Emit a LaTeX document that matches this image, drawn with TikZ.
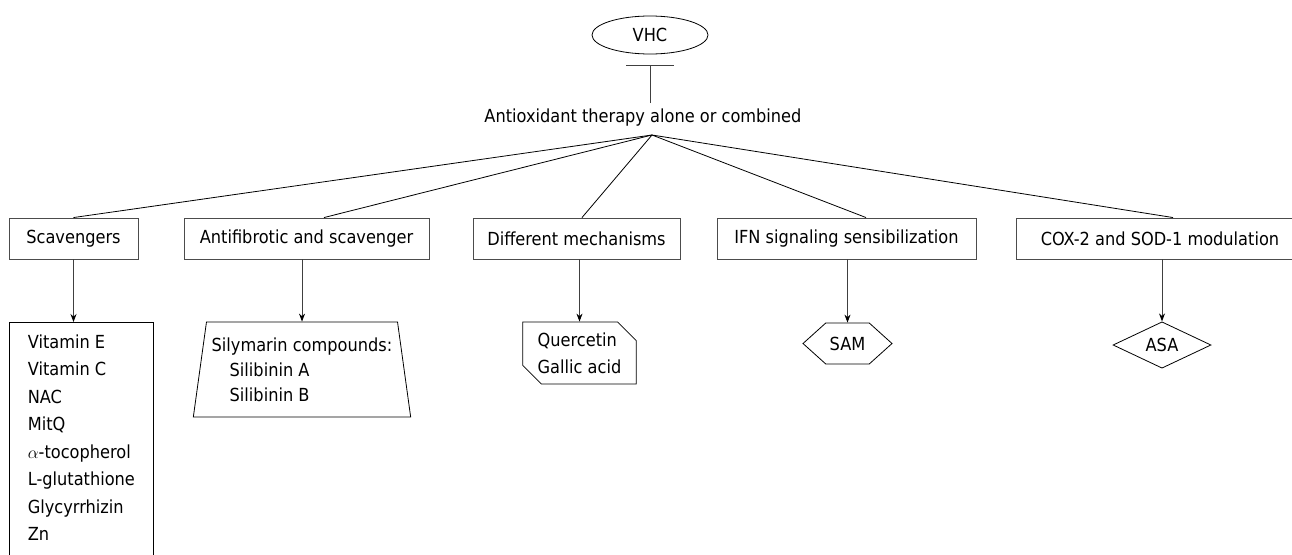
\documentclass[tikz,border=0pt]{standalone}
\usepackage{fontspec}
\setmainfont{DejaVu Sans Condensed}
\usetikzlibrary{arrows.meta,shapes.geometric,shapes.misc,shapes.symbols}
\newlength{\du}
\setlength{\du}{1pt}
\tikzset{
  box/.style={draw=black!70, line width=0.9pt, minimum height=41\du, inner sep=0pt},
  shp/.style={draw=black, line width=0.8pt, inner sep=0pt},
  fan/.style={draw=black, line width=0.8pt},
  down/.style={draw=black!75, line width=0.9pt, -{Stealth[length=8pt,width=6pt,black]}},
  inhibit/.style={draw=black!75, line width=0.9pt, -{Bar[width=48pt]}},
}
\begin{document}
\begin{tikzpicture}[x=1\du, y=-1\du, font=\fontsize{18}{21}\selectfont]
\useasboundingbox (0,0) rectangle (1292,554);
% top part
\node[ellipse, shp, minimum width=116\du, minimum height=38\du] (vhc) at (650,35) {VHC};
\node[inner sep=0pt] (therapy) at (643,118) {Antioxidant therapy alone or combined};
\coordinate (apex) at (652,135);
\draw[inhibit, shorten <=6pt, shorten >=11pt] (therapy.north -| vhc.south) -- (vhc.south);
% second row
\node[box, minimum width=129\du] (scav) at (73.5,238.5) {Scavengers};
\node[box, minimum width=245\du] (anti) at (306.5,238.5) {Antifibrotic and scavenger};
\node[box, minimum width=207\du] (diff) at (576.5,238.5) {Different mechanisms};
\node[box, minimum width=259\du] (ifn) at (846.5,238.5) {IFN signaling sensibilization};
\node[box, minimum width=288\du] (cox) at (1160,238.5) {COX-2 and SOD-1 modulation};
\draw[fan] (apex) -- (scav.north);
\draw[fan] (apex) -- ([xshift=17.5pt]anti.north);
\draw[fan] (apex) -- ([xshift=5.5pt]diff.north);
\draw[fan] (apex) -- ([xshift=19.5pt]ifn.north);
\draw[fan] (apex) -- ([xshift=13pt]cox.north);
% third row
\node[draw=black, line width=0.8pt, anchor=north west, minimum width=144\du, inner xsep=17\du, inner ysep=12\du,
  align=left, text depth=225\du, font=\fontsize{18}{27.5}\selectfont] (list) at (9,322)
  {Vitamin E\\Vitamin C\\NAC\\MitQ\\$\alpha$-tocopherol\\L-glutathione\\Glycyrrhizin\\Zn};
\node[trapezium, shp, trapezium stretches=true, trapezium left angle=79, trapezium right angle=79,
  minimum width=218\du, minimum height=95\du, align=left, font=\fontsize{18}{25}\selectfont] (silym) at (302,369.5)
  {Silymarin compounds:\\\hspace{18pt}Silibinin A\\\hspace{18pt}Silibinin B};
\node[chamfered rectangle, shp, chamfered rectangle corners={north east,south west}, chamfered rectangle xsep=15pt,
  minimum width=113\du, minimum height=62\du, align=left, font=\fontsize{18}{27}\selectfont] (querc) at (579.5,353)
  {Quercetin\\Gallic acid};
\node[signal, shp, signal to=east and west, signal pointer angle=84, minimum width=89\du, minimum height=41\du] (sam) at (847.5,343.5) {SAM};
\node[diamond, shp, minimum width=98\du, minimum height=46\du] (asa) at (1162,345) {ASA};
\draw[down] (scav.south) -- (scav.south |- list.north);
\draw[down] (anti.south -| silym.north) -- (silym.north);
\draw[down] (diff.south -| querc.north) -- (querc.north);
\draw[down] (ifn.south -| sam.north) -- (sam.north);
\draw[down] (cox.south -| asa.north) -- (asa.north);
\end{tikzpicture}
\end{document}
